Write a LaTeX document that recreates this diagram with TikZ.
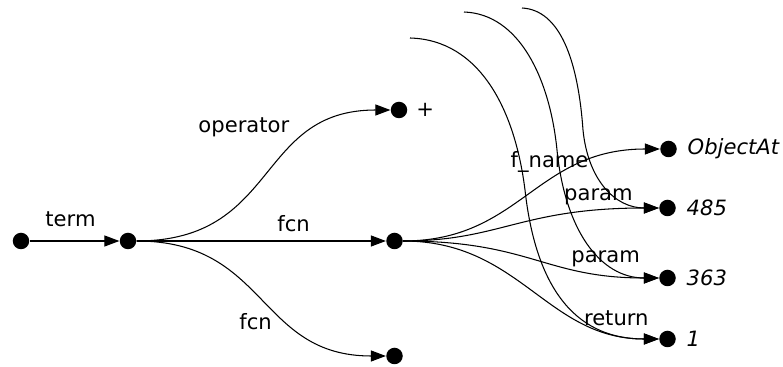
\documentclass[tikz,border=0pt]{standalone}
\usepackage{fontspec}
\setmainfont{DejaVu Sans}
\usetikzlibrary{positioning, arrows.meta}

\begin{document}
\begin{tikzpicture}[
    on grid,
    font=\fontsize{12}{14}\selectfont,
    dotstyle/.style={circle, fill=black, inner sep=0pt, minimum size=0.33cm},
    valstyle/.style={font=\fontsize{12}{14}\selectfont\itshape},
    edgelabel/.style={inner sep=1pt, anchor=base},
    arrowstyle/.style={-{Triangle[length=0.3cm, width=0.22cm]}, line width=0.6pt}
]
    \useasboundingbox (0,0) rectangle (15.66,-7.34);

    % Parse tree: root and term
    \node (n_root) [dotstyle] at (0.42,-4.82) {};
    \node (n_term) [dotstyle, right=2.14cm of n_root] {};

    % Children of term
    \node (n_plus) [dotstyle, above right=2.62cm and 5.42cm of n_term, label={[label distance=1.5pt]right:+}] {};
    \node (n_fcn) [dotstyle, right=5.33cm of n_term] {};
    \node (n_fcn2) [dotstyle, below right=2.30cm and 5.33cm of n_term] {};

    % Arguments of the function call
    \node (n_obj) [dotstyle, above right=1.84cm and 5.48cm of n_fcn, label={[valstyle, label distance=2.5pt]right:ObjectAt}] {};
    \node (n_485) [dotstyle, above right=0.66cm and 5.46cm of n_fcn, label={[valstyle, label distance=2.5pt]right:485}] {};
    \node (n_363) [dotstyle, below right=0.74cm and 5.46cm of n_fcn, label={[valstyle, label distance=2.5pt]right:363}] {};
    \node (n_ret) [dotstyle, below right=1.96cm and 5.46cm of n_fcn, label={[valstyle, label distance=2.5pt]right:1}] {};

    % Loose ends coming in from above
    \coordinate (top_a) at (8.20,-0.76);
    \coordinate (top_b) at (9.28,-0.24);
    \coordinate (top_c) at (10.44,-0.16);

    % Connections
    \draw [arrowstyle] (n_root) -- node[edgelabel, midway, xshift=-0.08cm, yshift=0.28cm] {term} (n_term);
    \draw [arrowstyle] (n_term) .. controls +(3.04,0) and +(-2.88,0) .. node[edgelabel, anchor=base east, pos=0.7, xshift=-0.23cm, yshift=0.11cm] {operator} (n_plus);
    \draw [arrowstyle] (n_term) -- node[edgelabel, pos=0.63, yshift=0.18cm] {fcn} (n_fcn);
    \draw [arrowstyle] (n_term) .. controls +(2.8,0) and +(-2.74,0) .. node[edgelabel, anchor=base east, pos=0.6, xshift=-0.13cm, yshift=-0.27cm] {fcn} (n_fcn2);

    \draw [arrowstyle] (n_fcn) .. controls +(2.52,0) and +(-2.66,0) .. node[edgelabel, pos=0.6, yshift=0.27cm] {f\_name} (n_obj);
    \draw [arrowstyle] (n_fcn) .. controls +(2.12,0) and +(-2.94,0) .. node[edgelabel, pos=0.85, xshift=-0.11cm, yshift=0.2cm] {param} (n_485);
    \draw [arrowstyle] (n_fcn) .. controls +(2.72,0) and +(-2.46,0) .. node[edgelabel, pos=0.82, yshift=0.24cm] {param} (n_363);
    \draw [arrowstyle] (n_fcn) .. controls +(2.52,0) and +(-2.42,0) .. node[edgelabel, pos=0.86, yshift=0.17cm] {return} (n_ret);

    \draw [arrowstyle] (top_a) .. controls (9.6,-0.8) and (10.3,-2.2) .. (10.5,-3.8) .. controls (10.7,-5.6) and (11.4,-6.78) .. (n_ret);
    \draw [arrowstyle] (top_b) .. controls (10.4,-0.28) and (11.0,-1.6) .. (11.14,-3.0) .. controls (11.3,-4.6) and (12.0,-5.56) .. (n_363);
    \draw [arrowstyle] (top_c) .. controls (11.2,-0.2) and (11.56,-1.2) .. (11.66,-2.6) .. controls (11.76,-3.6) and (12.3,-4.16) .. (n_485);

\end{tikzpicture}
\end{document}
